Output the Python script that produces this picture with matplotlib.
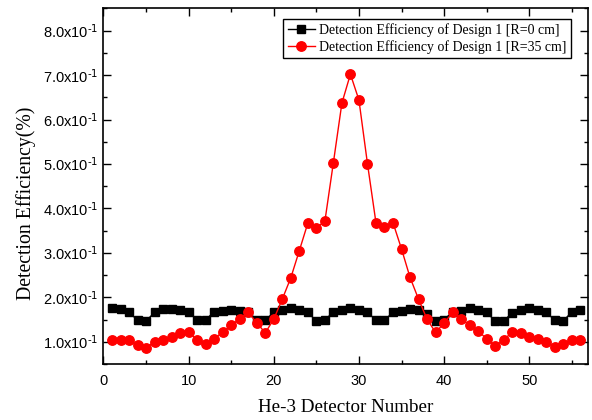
import matplotlib

matplotlib.use("Agg")
import matplotlib.pyplot as plt
from matplotlib.ticker import FuncFormatter, MultipleLocator

plt.rcParams["font.family"] = ["Liberation Sans", "DejaVu Sans"]
plt.rcParams["mathtext.default"] = "regular"

detector = list(range(1, 57))

eff_r0 = [
    0.175, 0.174, 0.166, 0.149, 0.147, 0.166, 0.174, 0.174, 0.171, 0.168,
    0.149, 0.149, 0.168, 0.170, 0.172, 0.170, 0.166, 0.150, 0.149, 0.166,
    0.172, 0.175, 0.172, 0.166, 0.147, 0.149, 0.167, 0.172, 0.175, 0.172,
    0.166, 0.149, 0.149, 0.166, 0.169, 0.174, 0.171, 0.163, 0.147, 0.150,
    0.167, 0.169, 0.176, 0.171, 0.166, 0.147, 0.147, 0.165, 0.172, 0.175,
    0.171, 0.166, 0.149, 0.147, 0.167, 0.172,
]

eff_r35 = [
    0.104, 0.104, 0.104, 0.092, 0.087, 0.100, 0.105, 0.111, 0.119, 0.121,
    0.105, 0.095, 0.107, 0.122, 0.137, 0.152, 0.166, 0.143, 0.120, 0.151,
    0.196, 0.244, 0.305, 0.367, 0.357, 0.371, 0.503, 0.637, 0.702, 0.644,
    0.501, 0.368, 0.359, 0.368, 0.309, 0.245, 0.196, 0.151, 0.121, 0.142,
    0.166, 0.152, 0.137, 0.124, 0.107, 0.090, 0.105, 0.121, 0.120, 0.111,
    0.107, 0.099, 0.089, 0.095, 0.104, 0.104,
]

labels = [
    "Detection Efficiency of Design 1 [R=0 cm]",
    "Detection Efficiency of Design 1 [R=35 cm]",
]

fig = plt.figure(figsize=(5.92, 4.20), dpi=100)
ax = fig.add_axes([0.1748, 0.1333, 0.8184, 0.8477])

ax.plot(detector, eff_r0, color="black", marker="s", markersize=6.3,
        linewidth=1.0, label=labels[0])
ax.plot(detector, eff_r35, color="red", marker="o", markersize=6.8,
        linewidth=1.0, label=labels[1])

ax.set_xlim(0, 56.9)
ax.set_ylim(0.05, 0.851)
ax.xaxis.set_major_locator(MultipleLocator(10))
ax.xaxis.set_minor_locator(MultipleLocator(5))
ax.yaxis.set_major_locator(MultipleLocator(0.1))
ax.yaxis.set_minor_locator(MultipleLocator(0.05))
ax.yaxis.set_major_formatter(
    FuncFormatter(lambda v, pos: f"{v * 10:.1f}x10$^{{\\text{{-1}}}}$"))

ax.tick_params(which="both", direction="in", top=True, right=True,
               labelsize=10.5, width=1.0)
ax.tick_params(which="major", length=5.5)
ax.tick_params(which="minor", length=2.8)
ax.tick_params(axis="x", which="both", pad=7)
for spine in ax.spines.values():
    spine.set_linewidth(1.2)

ax.set_xlabel("He-3 Detector Number", family="Liberation Serif",
              fontsize=13.7, labelpad=8)
ax.set_ylabel("Detection Efficiency(%)", family="Liberation Serif",
              fontsize=14.2, labelpad=5)
ax.yaxis.label.set_y(0.45)

leg = ax.legend(loc="upper right", bbox_to_anchor=(0.965, 0.968),
                prop={"family": "Liberation Serif", "size": 10},
                fancybox=False, framealpha=1, edgecolor="black",
                handlelength=2.0, handletextpad=0.3, borderpad=0.3,
                labelspacing=0.2, borderaxespad=0)
leg.get_frame().set_linewidth(1.0)

fig.savefig("out.png", dpi=100)
